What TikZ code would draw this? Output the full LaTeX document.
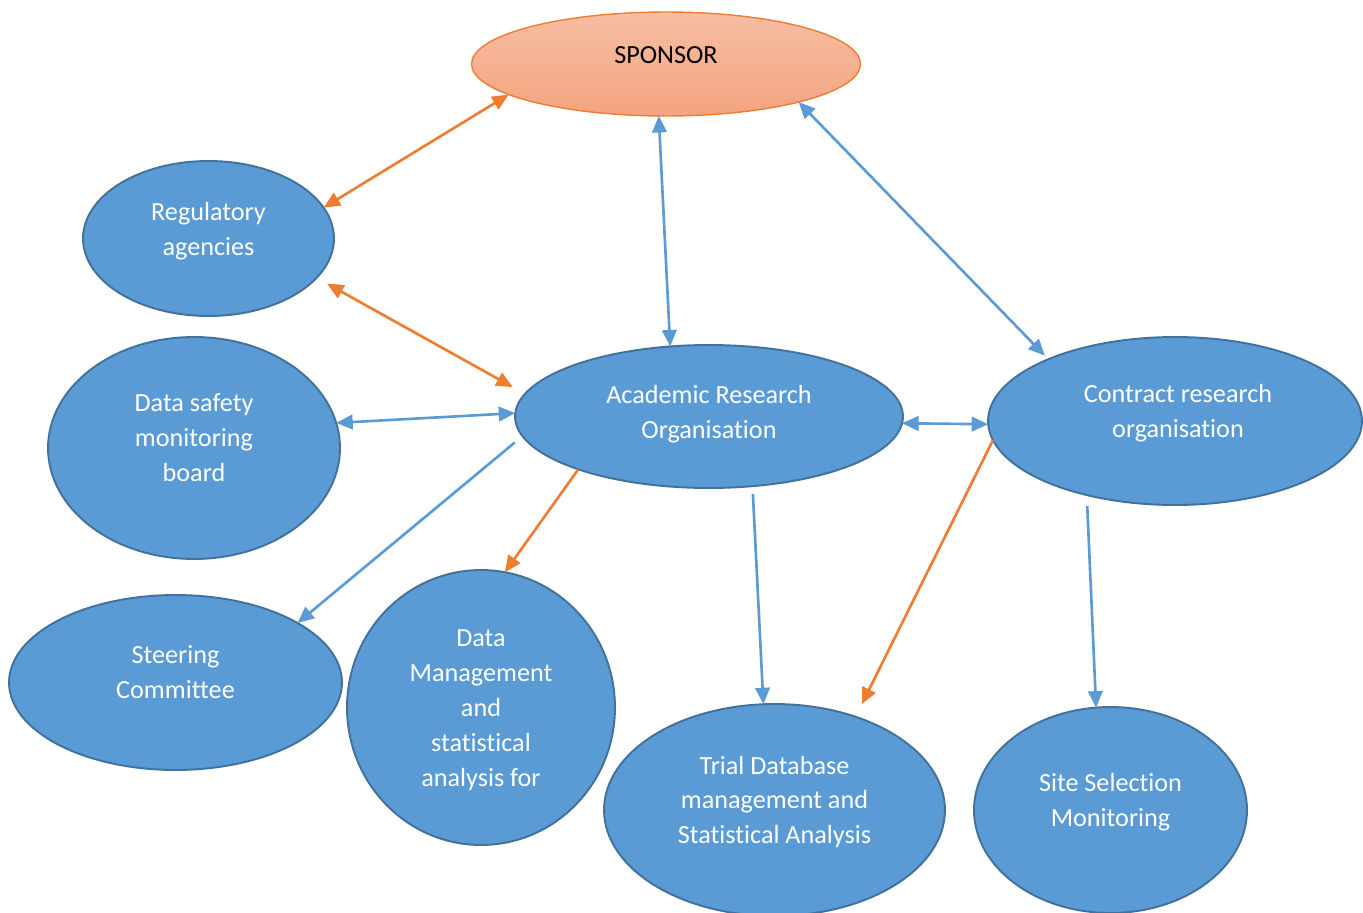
\documentclass[tikz,border=0pt]{standalone}
\usepackage{fontspec}
\setmainfont{Carlito}[Ligatures=NoCommon]
\usetikzlibrary{shapes.geometric,arrows.meta}

\definecolor{officeblue}{HTML}{5B9BD5}
\definecolor{blueedge}{HTML}{41719C}
\definecolor{officeorange}{HTML}{ED7D31}
\definecolor{peachtop}{HTML}{F7BEA3}
\definecolor{peachbot}{HTML}{F4A47F}

\begin{document}
\begin{tikzpicture}[x=0.02cm,y=-0.02cm,
	every node/.style={ellipse,inner sep=0,outer sep=0},
	blob/.style={draw=blueedge,line width=1.1pt,fill=officeblue},
	txt/.style={text=white,align=center,font=\fontsize{14.9}{19.9}\selectfont,yshift=#1},
	txt/.default=.18cm,
	>={Triangle[length=.33cm,width=.29cm]}]
\useasboundingbox (0,0) rectangle (1363,913);

\node[draw=officeorange,line width=.8pt,top color=peachtop,bottom color=peachbot,
	minimum width=7.78cm,minimum height=2.08cm,
	label={[txt=.18cm,text=black]center:SPONSOR}] (sponsor) at (666,64) {};
\node[blob,minimum width=5.02cm,minimum height=3.1cm,
	label={[txt=.15cm]center:{Regulatory\\agencies}}] (reg) at (208.5,238.5) {};
\node[blob,minimum width=5.84cm,minimum height=4.44cm,
	label={[txt=.2cm]center:{Data safety\\monitoring\\board}}] (dsmb) at (194,448) {};
\node[blob,minimum width=7.76cm,minimum height=2.86cm,
	label={[txt=.05cm]center:{Academic Research\\Organisation}}] (aro) at (709,416.5) {};
\node[blob,minimum width=7.48cm,minimum height=3.36cm,
	label={[txt=.16cm,xshift=.06cm]center:{Contract research\\organisation}}] (cro) at (1175,421) {};
\node[blob,minimum width=6.66cm,minimum height=3.5cm,
	label={[txt=.2cm]center:{Steering\\Committee}}] (steer) at (175.5,682.5) {};
\node[blob,minimum width=5.36cm,minimum height=5.5cm,
	label={[txt=-.06cm]center:{Data\\Management\\and\\statistical\\analysis for}}] (dm) at (481,707.5) {};
\node[blob,minimum width=6.82cm,minimum height=4.24cm,
	label={[txt=.16cm]center:{Trial Database\\management and\\Statistical Analysis}}] (trial) at (774.5,810) {};
\node[blob,minimum width=5.46cm,minimum height=4.12cm,
	label={[txt=.15cm]center:{Site Selection\\Monitoring}}] (site) at (1110.5,810) {};

\begin{scope}[line width=1.5pt]
%two-way links
\draw[<->,officeorange] (sponsor.191) -- (reg.15);
\draw[<->,officeblue] (sponsor.262) -- (aro.119);
\draw[<->,officeblue,shorten >=.1cm] (sponsor.344) -- (cro.154);
\draw[<->,officeorange,shorten <=.24cm,shorten >=.28cm] (reg.340) -- (aro.173);
\draw[<->,officeblue] (aro.179) -- (dsmb.10);
\draw[<->,officeblue] (aro.358) -- (cro.181);
%one-way links
\draw[->,officeblue,shorten <=.2cm] (aro.186) -- (steer.26);
\draw[->,officeorange] (aro.202) -- (dm.80);
\draw[->,officeblue,shorten <=.16cm] (aro.302) -- (trial.96);
\draw[->,officeorange,shorten >=.28cm] (cro.186) -- (trial.49);
\draw[->,officeblue,shorten <=.22cm] (cro.220) -- (site.98);
\end{scope}
\end{tikzpicture}
\end{document}
